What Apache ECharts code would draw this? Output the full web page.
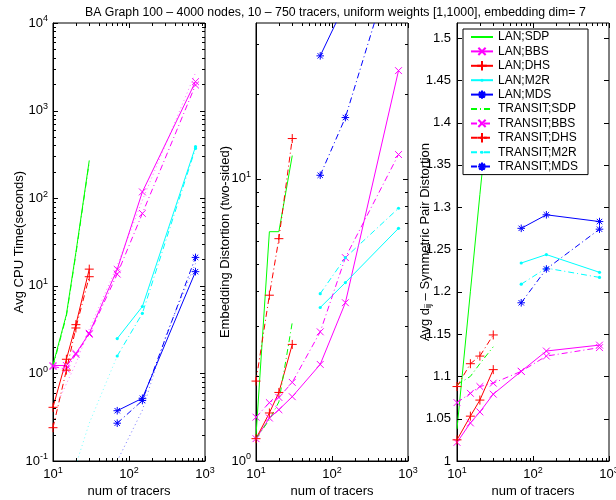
<!DOCTYPE html>
<html><head><meta charset="utf-8">
<script src="https://cdn.jsdelivr.net/npm/echarts@6/dist/echarts.min.js"></script>
<style>html,body{margin:0;padding:0;background:#fff}#c{width:616px;height:500px}</style>
</head><body><div id="c"></div>
<script>
const titleText = 'BA Graph 100 – 4000 nodes, 10 – 750 tracers, uniform weights [1,1000], embedding dim= 7';
const xName = 'num of tracers';
const yNames = ['Avg CPU Time(seconds)', 'Embedding Distortion (two-sided)', '{n|Avg d}{sub|ij}{n| – Symmetric Pair Distortion}'];
const legendNames = ['LAN;SDP','LAN;BBS','LAN;DHS','LAN;M2R','LAN;MDS','TRANSIT;SDP','TRANSIT;BBS','TRANSIT;DHS','TRANSIT;M2R','TRANSIT;MDS'];

const tracersSmall = [10, 15, 20, 30];
const tracersLarge = [70, 150, 750];
const tracersAll = [10, 15, 20, 30, 70, 150, 750];

// Panel 1: Avg CPU time (seconds)
const cpuLanSDP = [1.25, 4.7, 24, 270];
const cpuTransitSDP = [1.2, 4.5, 23, 260];
const cpuLanBBS = [1.23, 1.23, 1.69, 2.87, 15.4, 118, 2140];
const cpuTransitBBS = [1.2, 1.12, 1.65, 2.8, 13.6, 67, 1960];
const cpuLanDHS = [0.41, 1.45, 3.6, 15.5];
const cpuTransitDHS = [0.24, 1.09, 3.3, 12.7];
const cpuLanM2R = [2.5, 5.8, 387];
const cpuTransitM2R = [1.58, 4.85, 370];
const cpuLanMDS = [0.375, 0.52, 14.5];
const cpuTransitMDS = [0.27, 0.49, 21.1];
// faint dotted traces in panel 1 (no legend entry)
const cpuDotCyanX = [20, 30, 70];
const cpuDotCyanY = [0.09, 0.27, 1.58];
const cpuDotBlueX = [70, 150, 310, 750];
const cpuDotBlueY = [0.1, 0.38, 2.8, 18];
const cpuDotMagX = [12, 20, 30, 70, 150, 750];
const cpuDotMagY = [0.5, 1.3, 3.2, 17, 95, 2700];

// Panel 2: Embedding distortion (two-sided)
const embLanSDP = [1.23, 6.5, 6.5, 12.1];
const embTransitSDP = [1.2, 1.4, 1.62, 3.1];
const embLanBBS = [1.2, 1.42, 1.52, 1.69, 2.2, 3.64, 24.2];
const embTransitBBS = [1.43, 1.61, 1.68, 1.9, 2.87, 5.26, 12.2];
const embLanDHS = [1.2, 1.48, 1.75, 2.59];
const embTransitDHS = [1.92, 3.87, 6.14, 13.9];
const embLanM2R = [3.5, 4.29, 6.68];
const embTransitM2R = [3.92, 5.26, 7.87];
const embLanMDS = [27.3, 42, 60];
const embTransitMDS = [10.3, 16.5, 68];

// Panel 3: Avg d_ij symmetric pair distortion
const symLanSDP = [1.038, 1.2, 1.315, 1.472];
const symTransitSDP = [1.09, 1.1, 1.115, 1.135];
const symLanBBS = [1.022, 1.045, 1.058, 1.079, 1.106, 1.13, 1.137];
const symTransitBBS = [1.069, 1.08, 1.088, 1.092, 1.106, 1.124, 1.134];
const symLanDHS = [1.025, 1.053, 1.072, 1.108];
const symTransitDHS = [1.088, 1.115, 1.124, 1.149];
const symLanM2R = [1.234, 1.244, 1.223];
const symTransitM2R = [1.209, 1.228, 1.217];
const symLanMDS = [1.275, 1.291, 1.283];
const symTransitMDS = [1.187, 1.227, 1.274];

// axis ticks
const xMajorTicks = [10, 100, 1000];
const logMinorMult = [2, 3, 4, 5, 6, 7, 8, 9];
const yMajorCpu = [0.1, 1, 10, 100, 1000, 10000];
const yMajorEmb = [1, 10];
const yMajorSym = [1, 1.05, 1.1, 1.15, 1.2, 1.25, 1.3, 1.35, 1.4, 1.45, 1.5];
const yMin = [0.1, 1, 1];
const yMax = [10000, 35.7, 1.5177];

const FONT = '"Liberation Sans", Arial, Helvetica, sans-serif';
const colors = {SDP: '#00ff00', BBS: '#ff00ff', DHS: '#ff0000', M2R: '#00ffff', MDS: '#0000ff'};
const symbols = {
  SDP: 'path://M0,0M10,10',
  BBS: 'path://M0,0M10,10M1.2,1.2L8.8,8.8M8.8,1.2L1.2,8.8',
  DHS: 'path://M5,0L5,10M0,5L10,5',
  M2R: 'path://M0,0M10,10M3.4,5A1.6,1.6,0,1,1,6.6,5A1.6,1.6,0,1,1,3.4,5Z',
  MDS: 'path://M0,0M10,10M5,0.8L5,9.2M0.8,5L9.2,5M2,2L8,8M8,2L2,8'};
const sizes = {SDP: 10, BBS: 9, DHS: 9, M2R: 10, MDS: 9};
const xsFor = {SDP: tracersSmall, DHS: tracersSmall, BBS: tracersAll, M2R: tracersLarge, MDS: tracersLarge};

const table = [
  {LAN: {SDP: cpuLanSDP, BBS: cpuLanBBS, DHS: cpuLanDHS, M2R: cpuLanM2R, MDS: cpuLanMDS},
   TRANSIT: {SDP: cpuTransitSDP, BBS: cpuTransitBBS, DHS: cpuTransitDHS, M2R: cpuTransitM2R, MDS: cpuTransitMDS}},
  {LAN: {SDP: embLanSDP, BBS: embLanBBS, DHS: embLanDHS, M2R: embLanM2R, MDS: embLanMDS},
   TRANSIT: {SDP: embTransitSDP, BBS: embTransitBBS, DHS: embTransitDHS, M2R: embTransitM2R, MDS: embTransitMDS}},
  {LAN: {SDP: symLanSDP, BBS: symLanBBS, DHS: symLanDHS, M2R: symLanM2R, MDS: symLanMDS},
   TRANSIT: {SDP: symTransitSDP, BBS: symTransitBBS, DHS: symTransitDHS, M2R: symTransitM2R, MDS: symTransitMDS}}
];

const DASHDOT = [6, 3, 1, 3];
const series = [];
[0, 1, 2].forEach(p => {
  ['LAN', 'TRANSIT'].forEach(net => {
    ['SDP', 'BBS', 'DHS', 'M2R', 'MDS'].forEach(m => {
      const c = colors[m];
      const xs = xsFor[m], ys = table[p][net][m];
      series.push({
        name: net + ';' + m, type: 'line', xAxisIndex: p, yAxisIndex: p,
        data: xs.map((x, i) => [x, ys[i]]),
        symbol: symbols[m], symbolSize: sizes[m], showSymbol: m !== 'SDP',
        lineStyle: {color: c, width: 1, type: net === 'LAN' ? 'solid' : DASHDOT},
        itemStyle: {color: c, borderColor: c, borderWidth: (m === 'M2R' || m === 'SDP') ? 0 : 1},
        emphasis: {disabled: true}, clip: true, z: 3
      });
    });
  });
});
function dotted(xs, ys, c) {
  series.push({type: 'line', xAxisIndex: 0, yAxisIndex: 0, data: xs.map((x, i) => [x, ys[i]]),
    symbol: 'none', lineStyle: {color: c, width: 1, type: [1, 3], opacity: 0.55},
    emphasis: {disabled: true}, clip: true, z: 2});
}
dotted(cpuDotCyanX, cpuDotCyanY, colors.M2R);
dotted(cpuDotBlueX, cpuDotBlueY, colors.MDS);
dotted(cpuDotMagX, cpuDotMagY, colors.BBS);

// tick marks (inside, on all four sides) through the axis scales
function tickRender(params, api) {
  const cs = params.coordSys;
  const kind = api.value(2), len = api.value(3);
  const pt = api.coord([api.value(0), api.value(1)]);
  const st = {stroke: '#000', lineWidth: 1};
  if (kind === 0) {
    const x = Math.round(pt[0]) + 0.5;
    return {type: 'group', children: [
      {type: 'line', shape: {x1: x, y1: cs.y + cs.height, x2: x, y2: cs.y + cs.height - len}, style: st},
      {type: 'line', shape: {x1: x, y1: cs.y, x2: x, y2: cs.y + len}, style: st}]};
  }
  const y = Math.round(pt[1]) + 0.5;
  return {type: 'group', children: [
    {type: 'line', shape: {x1: cs.x, y1: y, x2: cs.x + len, y2: y}, style: st},
    {type: 'line', shape: {x1: cs.x + cs.width, y1: y, x2: cs.x + cs.width - len, y2: y}, style: st}]};
}
function logTicks(majors, lo, hi) {
  const out = [];
  majors.forEach(v => { if (v >= lo && v <= hi) out.push([v, 5]); });
  majors.forEach(v => logMinorMult.forEach(k => { const t = v * k; if (t > lo && t < hi) out.push([t, 3]); }));
  return out;
}
[0, 1, 2].forEach(p => {
  const data = [];
  logTicks(xMajorTicks, 10, 1000).forEach(([v, l]) => data.push([v, yMin[p], 0, l]));
  const yt = p === 0 ? logTicks(yMajorCpu, yMin[0], yMax[0]) : p === 1 ? logTicks(yMajorEmb, yMin[1], yMax[1]) : yMajorSym.map(v => [v, 5]);
  yt.forEach(([v, l]) => data.push([10, v, 1, l]));
  series.push({type: 'custom', xAxisIndex: p, yAxisIndex: p, data, renderItem: tickRender,
    encode: {x: 0, y: 1}, silent: true, z: 5});
});

const powRich = {
  b: {fontSize: 13, fontFamily: FONT, color: '#000'},
  s: {fontSize: 9, fontFamily: FONT, color: '#000', padding: [0, 0, 8, 0]}
};
function powLabel(v) {
  const e = Math.log10(v);
  if (Math.abs(e - Math.round(e)) > 1e-6) return '';
  return '{b|10}{s|' + Math.round(e) + '}';
}
const gridLeft = [53, 256, 457];
const grids = gridLeft.map(l => ({left: l, top: 23, width: 152, height: 438, show: true,
  borderColor: '#000', borderWidth: 1, backgroundColor: '#fff', containLabel: false, outerBoundsMode: 'none'}));
const xAxes = [0, 1, 2].map(p => ({
  type: 'log', logBase: 10, gridIndex: p, min: 10, max: 1000,
  name: xName, nameLocation: 'middle', nameGap: 24, nameMoveOverlap: false,
  nameTextStyle: {fontSize: 13, fontFamily: FONT, color: '#000'},
  axisLine: {show: true, lineStyle: {color: '#000', width: 1}}, axisTick: {show: false}, splitLine: {show: false},
  axisLabel: {formatter: powLabel, rich: powRich, margin: 5, color: '#000', showMinLabel: true, showMaxLabel: true}
}));
const yNameGap = [27, 24, 24];
const yAxes = [0, 1, 2].map(p => ({
  type: p < 2 ? 'log' : 'value', logBase: 10, gridIndex: p, min: yMin[p], max: yMax[p],
  interval: p < 2 ? undefined : 0.05,
  name: yNames[p], nameLocation: 'middle', nameGap: yNameGap[p], nameRotate: 90, nameMoveOverlap: false,
  nameTextStyle: {fontSize: 13, fontFamily: FONT, color: '#000',
    rich: {n: {fontSize: 13, fontFamily: FONT, color: '#000'}, sub: {fontSize: 9, fontFamily: FONT, color: '#000', padding: [7, 0, 0, 0]}}},
  axisLine: {show: true, lineStyle: {color: '#000', width: 1}}, axisTick: {show: false}, splitLine: {show: false},
  axisLabel: p < 2 ? {formatter: powLabel, rich: powRich, margin: 5, color: '#000'} : {
    formatter: v => (Math.abs(v * 20 - Math.round(v * 20)) < 1e-6 ? String(parseFloat(v.toFixed(2))) : ''),
    fontSize: 13, fontFamily: FONT, color: '#000', margin: 6, showMaxLabel: true}
}));

const chart = echarts.init(document.getElementById('c'), null, {renderer: 'canvas'});
chart.setOption({
  animation: false, backgroundColor: '#fff',
  title: {text: titleText, left: 80, top: 2, textStyle: {fontSize: 12.3, fontWeight: 'normal', fontFamily: FONT, color: '#000'}},
  legend: {data: legendNames, orient: 'vertical', left: 463, top: 29, padding: [2, 10, 2, 7],
    itemWidth: 22, itemHeight: 12, itemGap: 2.4, backgroundColor: '#fff', borderColor: '#000', borderWidth: 1, borderRadius: 0,
    textStyle: {fontSize: 12, fontFamily: FONT, color: '#000'}, selectedMode: false},
  grid: grids, xAxis: xAxes, yAxis: yAxes, series
});
</script></body></html>
